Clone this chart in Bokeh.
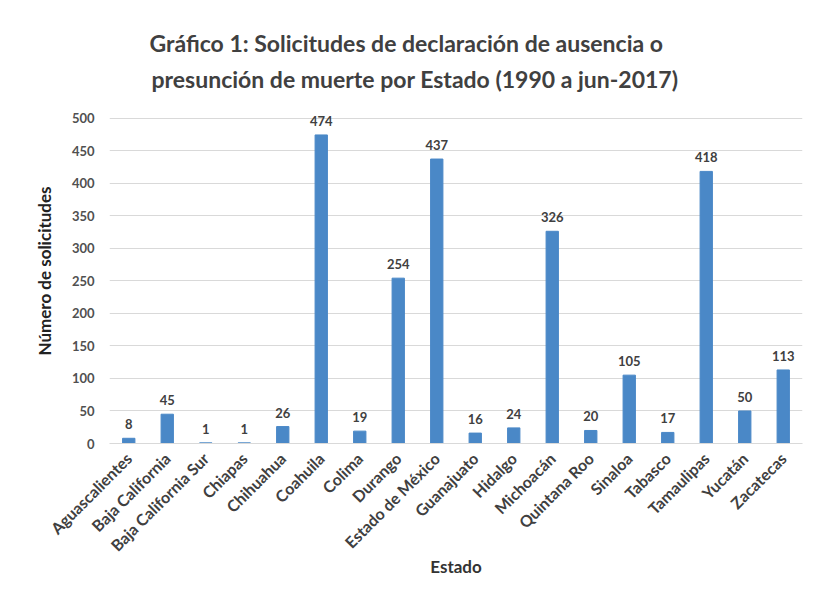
from bokeh.plotting import figure
from bokeh.models import ColumnDataSource, LabelSet, Title, FixedTicker, FactorRange, Range1d
from bokeh.core.properties import value
from bokeh.embed import file_html
from bokeh.resources import INLINE
from math import pi

estados = ["Aguascalientes", "Baja California", "Baja California Sur", "Chiapas", "Chihuahua",
           "Coahuila", "Colima", "Durango", "Estado de México", "Guanajuato", "Hidalgo",
           "Michoacán", "Quintana Roo", "Sinaloa", "Tabasco", "Tamaulipas", "Yucatán", "Zacatecas"]
solicitudes = [8, 45, 1, 1, 26, 474, 19, 254, 437, 16, 24, 326, 20, 105, 17, 418, 50, 113]
y_ticks = [0, 50, 100, 150, 200, 250, 300, 350, 400, 450, 500]

titulo_1 = "Gráfico 1: Solicitudes de declaración de ausencia o"
titulo_2 = "presunción de muerte por Estado (1990 a jun-2017)"

FONT = "Lato"

src = ColumnDataSource(dict(estado=estados, n=solicitudes, lbl=[str(v) for v in solicitudes]))

p = figure(width=805, height=599, x_range=FactorRange(*estados), y_range=Range1d(0, 530),
           output_backend="svg", toolbar_location=None, tools="",
           min_border_left=109, min_border_right=3, min_border_top=98, min_border_bottom=156)
p.title.visible = False
p.background_fill_color = "white"
p.border_fill_color = "white"
p.outline_line_color = None

p.vbar(x="estado", top="n", width=0.32, source=src, color="#4a88c7")

p.add_layout(LabelSet(x="estado", y="n", text="lbl", source=src, text_align="center",
                      text_baseline="bottom", y_offset=9, text_font=value(FONT),
                      text_font_size=value("13px"), text_font_style=value("bold"),
                      text_color=value("#404040")))

p.xgrid.grid_line_color = None
p.ygrid.grid_line_color = "#d9d9d9"
p.ygrid.ticker = FixedTicker(ticks=y_ticks)

p.yaxis.ticker = FixedTicker(ticks=y_ticks)
p.yaxis.axis_line_color = None
p.yaxis.major_tick_line_color = None
p.yaxis.minor_tick_line_color = None
p.yaxis.major_label_standoff = 9
p.yaxis.major_label_text_font = FONT
p.yaxis.major_label_text_font_size = "13px"
p.yaxis.major_label_text_font_style = "bold"
p.yaxis.major_label_text_color = "#505050"
p.yaxis.axis_label = "Número de solicitudes"
p.yaxis.axis_label_text_font = FONT
p.yaxis.axis_label_text_font_size = "17px"
p.yaxis.axis_label_text_font_style = "bold"
p.yaxis.axis_label_text_color = "#222222"
p.yaxis.axis_label_standoff = 14

p.xaxis.axis_line_color = "#d9d9d9"
p.xaxis.major_tick_line_color = None
p.xaxis.minor_tick_line_color = None
p.xaxis.major_label_orientation = pi / 4
p.xaxis.major_label_standoff = 6
p.xaxis.major_label_text_font = FONT
p.xaxis.major_label_text_font_size = "16px"
p.xaxis.major_label_text_font_style = "bold"
p.xaxis.major_label_text_color = "#404040"
p.xaxis.axis_label = "Estado"
p.xaxis.axis_label_text_font = FONT
p.xaxis.axis_label_text_font_size = "17px"
p.xaxis.axis_label_text_font_style = "bold"
p.xaxis.axis_label_text_color = "#333333"
p.xaxis.axis_label_standoff = -8

for txt, off, so in [(titulo_2, 42, 12), (titulo_1, 40, 0)]:
    p.add_layout(Title(text=txt, align="left", offset=off, text_font=FONT,
                       text_font_size="23px", text_font_style="bold", text_color="#404040",
                       standoff=so), "above")

open("out.html", "w").write(file_html(p, INLINE))
